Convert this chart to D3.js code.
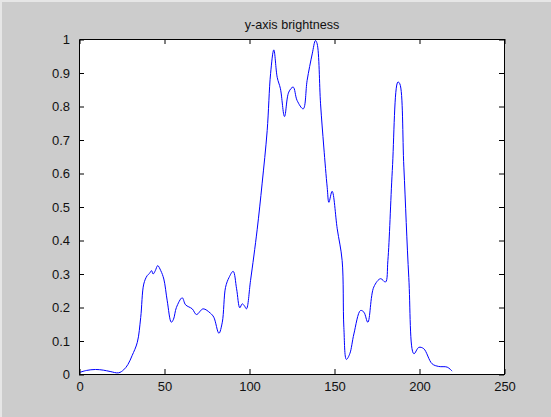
<!DOCTYPE html>
<html>
<head>
<meta charset="utf-8">
<script src="https://cdn.jsdelivr.net/npm/d3@7"></script>
<style>
  html, body { margin: 0; padding: 0; background: #cccccc; }
  svg { display: block; }
  text { font-family: "Liberation Sans", Arial, sans-serif; fill: #111; }
</style>
</head>
<body>
<svg id="chart" width="551" height="417"></svg>
<script>
const titleText = "y-axis brightness";
const xTicks = [0, 50, 100, 150, 200, 250];
const yTicks = [0, 0.1, 0.2, 0.3, 0.4, 0.5, 0.6, 0.7, 0.8, 0.9, 1];
const xValues = [0, 4, 9.4, 14, 18, 23, 26, 28.5, 31, 34, 36, 37.8, 39.8, 41.2, 42.4, 43.3, 44.6, 46, 47.8, 49.6, 51.6, 54, 55.3, 57, 60.4, 62.4, 66.3, 68.8, 72.7, 77, 79, 82, 84, 85.9, 88, 90.4, 92.4, 94.3, 95.7, 97, 98.2, 100.6, 104.5, 107.4, 110.4, 112.4, 114.3, 116.3, 118.2, 120.6, 123.1, 125.7, 128, 131.6, 133.9, 136.9, 138.8, 139.8, 141.8, 143.7, 145.7, 146.7, 148.6, 151.6, 154.5, 155.5, 157, 159, 161.4, 165.3, 167.3, 169.6, 173.1, 177.1, 180, 181.4, 184, 187.3, 188.4, 190.8, 193.7, 196.7, 199.6, 202.5, 207.4, 211.3, 216.3, 219.2];
const yValues = [0.006, 0.012, 0.015, 0.013, 0.009, 0.005, 0.014, 0.03, 0.057, 0.096, 0.17, 0.27, 0.295, 0.302, 0.31, 0.30, 0.31, 0.325, 0.31, 0.285, 0.22, 0.156, 0.165, 0.20, 0.229, 0.208, 0.196, 0.179, 0.196, 0.183, 0.171, 0.123, 0.156, 0.26, 0.29, 0.308, 0.256, 0.199, 0.211, 0.205, 0.196, 0.28, 0.432, 0.569, 0.728, 0.898, 0.969, 0.887, 0.853, 0.770, 0.843, 0.858, 0.818, 0.793, 0.878, 0.957, 0.997, 0.987, 0.808, 0.679, 0.559, 0.514, 0.547, 0.435, 0.340, 0.141, 0.045, 0.062, 0.121, 0.191, 0.186, 0.156, 0.261, 0.286, 0.276, 0.340, 0.609, 0.873, 0.868, 0.619, 0.290, 0.062, 0.081, 0.077, 0.032, 0.024, 0.022, 0.010];

const svg = d3.select("#chart");
const W = 551, H = 417;
const plot = { left: 79, right: 504, top: 39, bottom: 374 };

// frame highlight edges
svg.append("rect").attr("x", 0).attr("y", 0).attr("width", W).attr("height", 2).attr("fill", "#e6e6e6");
svg.append("rect").attr("x", 0).attr("y", 0).attr("width", 2).attr("height", H).attr("fill", "#e6e6e6");

const x = d3.scaleLinear().domain([0, 250]).range([plot.left + 0.5, plot.right + 0.5]);
const y = d3.scaleLinear().domain([0, 1]).range([plot.bottom + 0.5, plot.top + 0.5]);

// plot area
svg.append("rect")
  .attr("x", plot.left + 0.5).attr("y", plot.top + 0.5)
  .attr("width", plot.right - plot.left).attr("height", plot.bottom - plot.top)
  .attr("fill", "#ffffff");

// line
const data = xValues.map((v, i) => [v, yValues[i]]);
const line = d3.line().x(d => x(d[0])).y(d => y(d[1])).curve(d3.curveCatmullRom.alpha(0.5));
svg.append("path").datum(data)
  .attr("d", line)
  .attr("fill", "none")
  .attr("stroke", "#0000ff")
  .attr("stroke-width", 1);

// axes (MATLAB style: inward ticks on all sides)
const tickLen = 5;
const fmt = d => String(d);
const bottomAxis = d3.axisBottom(x).tickValues(xTicks).tickSizeInner(-tickLen).tickSizeOuter(0).tickPadding(8).tickFormat(fmt);
const topAxis = d3.axisTop(x).tickValues(xTicks).tickSizeInner(-tickLen).tickSizeOuter(0).tickFormat("");
const leftAxis = d3.axisLeft(y).tickValues(yTicks).tickSizeInner(-tickLen).tickSizeOuter(0).tickPadding(9).tickFormat(fmt);
const rightAxis = d3.axisRight(y).tickValues(yTicks).tickSizeInner(-tickLen).tickSizeOuter(0).tickFormat("");

function style(g) {
  g.selectAll(".domain").attr("stroke", "#000").attr("stroke-width", 1);
  g.selectAll(".tick line").attr("stroke", "#000").attr("stroke-width", 1);
  g.selectAll(".tick text").attr("font-size", 13).attr("font-family", "Liberation Sans, Arial, sans-serif").attr("fill", "#111");
}

svg.append("g").attr("transform", `translate(0,${plot.bottom})`).call(bottomAxis).call(style);
svg.append("g").attr("transform", `translate(0,${plot.top})`).call(topAxis).call(style);
svg.append("g").attr("transform", `translate(${plot.left},0)`).call(leftAxis).call(style);
svg.append("g").attr("transform", `translate(${plot.right},0)`).call(rightAxis).call(style);

// title
svg.append("text")
  .attr("x", (plot.left + plot.right) / 2 + 0.5)
  .attr("y", 29)
  .attr("text-anchor", "middle")
  .attr("font-size", 12.6)
  .text(titleText);
</script>
</body>
</html>
